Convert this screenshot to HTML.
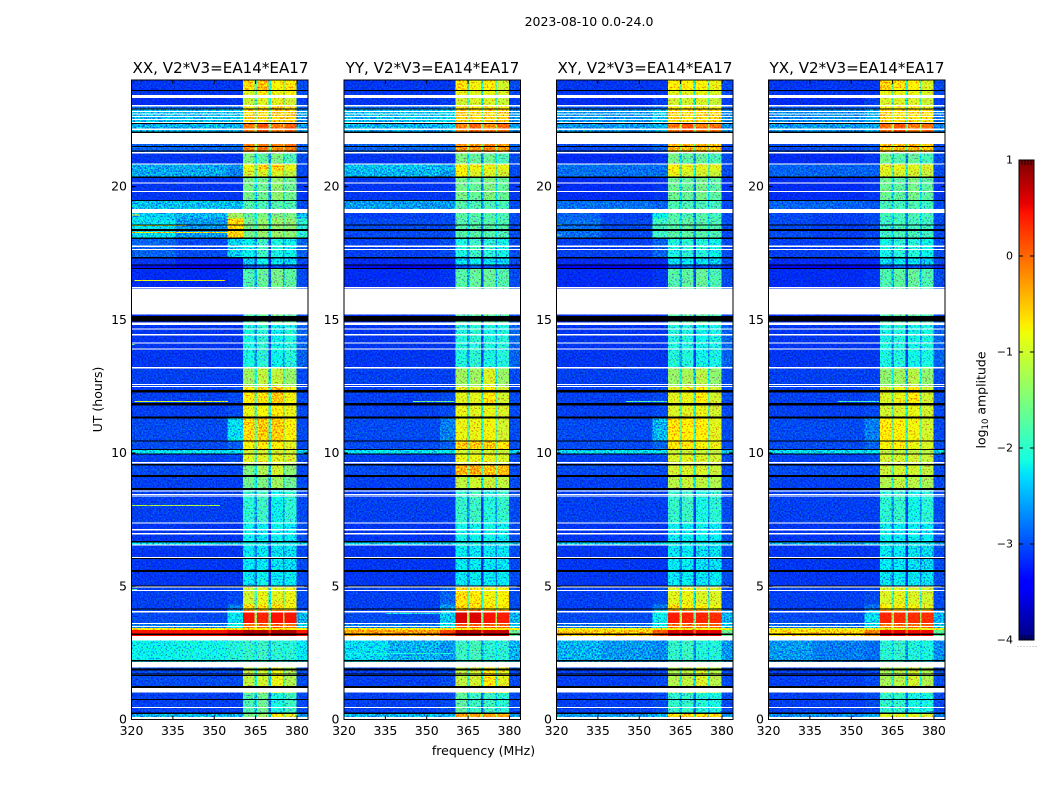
<!DOCTYPE html>
<html lang="en">
<head>
<meta charset="utf-8">
<title>2023-08-10 amplitude waterfall</title>
<style>
html,body{margin:0;padding:0;background:#fff;}
svg{display:block;}
text{font-family:"DejaVu Sans","Liberation Sans",sans-serif;fill:#000;}
</style>
</head>
<body>
<svg id="chart" xmlns="http://www.w3.org/2000/svg" width="1050" height="800" viewBox="0 0 1050 800">
  <defs>
    <filter id="speckle" x="0" y="0" width="1" height="1" color-interpolation-filters="sRGB">
      <feComponentTransfer in="SourceGraphic" result="s">
        <feFuncG type="table" tableValues="0 0.28 0.66 1"/>
      </feComponentTransfer>
      <feTurbulence type="fractalNoise" baseFrequency="0.62" numOctaves="1" seed="7" result="n"/>
      <feColorMatrix in="n" type="matrix" values="0 0 0 0 0.385  2.4 0 0 0 -0.7  0 1.2 0 0 -0.2  0 0 0 0 1" result="c"/>
      <feComposite in="s" in2="c" operator="arithmetic" k1="1.3" k2="0.5" k3="0" k4="0"/>
    </filter>
  </defs>
  <text x="589" y="26" font-size="12.5" text-anchor="middle">2023-08-10 0.0-24.0</text>
  <g id="panels"></g>
  <text x="220.5" y="73" font-size="15.1" text-anchor="middle">XX, V2*V3=EA14*EA17</text>
  <text x="432.5" y="73" font-size="15.1" text-anchor="middle">YY, V2*V3=EA14*EA17</text>
  <text x="645" y="73" font-size="15.1" text-anchor="middle">XY, V2*V3=EA14*EA17</text>
  <text x="857" y="73" font-size="15.1" text-anchor="middle">YX, V2*V3=EA14*EA17</text>
  <text x="483.5" y="755" font-size="12.5" text-anchor="middle">frequency (MHz)</text>
  <text x="102" y="399.5" font-size="12.5" text-anchor="middle" transform="rotate(-90 102 399.5)">UT (hours)</text>
  <g id="colorbar"></g>
  <text x="985.5" y="400" font-size="12.5" text-anchor="middle" transform="rotate(-90 985.5 400)">log<tspan font-size="8.5" dy="2.5">10</tspan><tspan dy="-2.5"> amplitude</tspan></text>
</svg>
<script>
// ---------- data ----------
const frequencyTicks = [320, 335, 350, 365, 380];
const hourTicks = [0, 5, 10, 15, 20];
const colorbarTicks = [1, 0, -1, -2, -3, -4];
// frequency edges (MHz): left, middle, shoulder, sub-band 1, notch, 2, notch, 3, notch, 4, right
const channelEdges = [320, 336, 354.8, 360.4, 364.6, 365.5, 369.7, 370.5, 374.9, 375.5, 379.8, 384];
// top of each time band (UT hours); each band runs down to the next entry
const bandTopHours = [24, 23.6, 23.33, 23, 22.91, 22.36, 21.6, 21.29, 20.87, 20.6, 20.35, 19.48, 19, 18.8, 18.06, 17.33, 17.08, 16.91, 14.9, 13.22, 12.51, 11.85, 11.36, 10.45, 10.14, 9.97, 9.56, 9.15, 8.67, 7.4, 6.67, 6.57, 5.6, 5, 4.32, 4.1, 3.63, 3.43, 3.35, 2.96, 1.96, 1, 0.26, 0.09];
// log10 amplitude per band: [left, middle, shoulder, sub1, sub2, sub3, sub4, right, notch]
const xxLevels = [
[-3.1,-3.1,-3.1,-.5,-.35,-.75,-.6,-3,-1.7],[-3.1,-3.1,-3.1,-.95,-.65,-.85,-.75,-3,-1.7],[-3.15,-3.15,-3.1,-1.05,-.9,-.9,-1,-3.05,-1.8],[-2.9,-2.9,-2.9,-.75,-.6,-.35,-.7,-2.9,-1.5],[-2.55,-2.55,-2.55,-.45,-.5,-.4,-.4,-2.7,-1.4],[-2.6,-2.6,-2.6,-.05,.1,-.05,.05,-2.7,-1.2],[-2.9,-2.9,-2.9,-.1,-.05,-.1,-.05,-2.9,-1.3],[-3.1,-3.1,-3.1,-1.5,-1.7,-1.5,-1.8,-3,-2.4],[-2.65,-2.65,-2.75,-.8,-.45,-.45,-.85,-3,-1.7],[-2.65,-2.65,-2.8,-1,-.95,-.95,-1.1,-3,-1.8],[-3.1,-3.1,-3.1,-1.55,-1.6,-1.4,-1.6,-3.1,-2.4],[-2.55,-2.55,-2.6,-1.75,-1.8,-1.75,-1.8,-3,-2.4],
[-2.5,-2.6,-1.3,-1.7,-1.5,-1.5,-1.5,-2.6,-2.2],[-2.4,-2.7,-.45,-1.55,-1.35,-1.35,-1.4,-2,-2],[-2.9,-3,-2.5,-2.2,-1.9,-2.1,-2.2,-2.9,-2.7],[-3.1,-3.2,-3.2,-2.5,-2.2,-2.4,-2.5,-3,-2.9],[-3.3,-3.4,-3.4,-3,-2.9,-3,-3,-3.2,-3.2],[-3.15,-3.15,-3.1,-1.8,-1.65,-1.55,-1.7,-3,-2.6],[-3.1,-3.1,-3.1,-2.1,-2,-2.2,-2.05,-2.9,-2.7],[-3.05,-3.05,-3.05,-1.3,-1.1,-1.1,-1.35,-3,-2.1],[-3.05,-3.05,-3,-.7,-.55,-.4,-.8,-3,-1.6],[-3.05,-3.05,-3,-.85,-.75,-.7,-.85,-3,-1.7],[-3,-3,-2.4,-.5,-.4,-.4,-.75,-3,-1.5],[-3,-3,-2.9,-.75,-.6,-.65,-.9,-3,-1.6],[-2.35,-2.35,-2.35,-1,-1,-1,-1,-2.5,-1.8],[-3.05,-3.05,-3,-.9,-.9,-.9,-.95,-3,-1.7],[-3,-3,-3,-1.5,-1.2,-1,-1.4,-3,-2.2],[-3.05,-3.05,-3.05,-1.6,-1.5,-1.3,-1.6,-3,-2.3],[-3.05,-3.05,-3.05,-2,-1.9,-2.2,-2,-3,-2.7],[-3.1,-3.1,-3.1,-2.2,-2.3,-2.2,-2.3,-3,-2.8],[-2.4,-2.4,-2.4,-2.2,-2.2,-2.2,-2.2,-2.5,-2.4],[-3.1,-3.1,-3.1,-2.3,-2.3,-2.4,-2.4,-3,-2.8],[-3.1,-3.1,-3.1,-2.3,-2.2,-2.3,-2.3,-3,-2.8],[-3.05,-3.05,-3,-1,-.85,-.9,-.85,-3,-1.9],[-3.05,-3.05,-2.8,-.5,-.6,-.5,-.8,-3,-1.6],[-3,-3,-2.4,.45,.35,.45,.45,-2.6,-1.3],[-2.8,-2.8,-2.2,0,0,.05,0,-2.5,-1],[-.7,-.7,-.7,-.7,-.7,-.7,-.7,-.7,-.7],[.45,.45,.6,.8,.8,.8,.8,.45,.7],[-2.2,-2.15,-2.05,-1.95,-1.9,-2,-2,-2.3,-2.2],[-3,-3,-3,-1.1,-1,-.85,-1.2,-3,-2.1],[-3.05,-3.05,-3.05,-1.8,-1.6,-2.1,-1.9,-3,-2.5],[-2.6,-2.6,-2.6,-1.5,-1.3,-.75,-.95,-2.7,-2]
];
const yyLevels = [
[-3.1,-3.1,-3.1,-.55,-.8,-.7,-1,-3,-1.7],[-3.1,-3.1,-3.1,-.85,-.9,-.85,-.95,-3,-1.8],[-3.1,-3.1,-3.05,-1,-.95,-.95,-1.05,-3.05,-1.9],[-2.9,-2.9,-2.8,-.6,-.6,-.55,-.7,-2.9,-1.5],[-2.55,-2.55,-2.4,-.4,-.5,-.45,-.4,-2.7,-1.4],[-2.6,-2.6,-2.5,-.1,.05,-.1,0,-2.7,-1.2],[-2.9,-2.9,-2.9,-.15,-.15,-.1,-.2,-2.9,-1.3],[-3.1,-3.1,-3.1,-1.5,-1.65,-1.6,-1.8,-3,-2.4],[-2.55,-2.55,-2.6,-.75,-.8,-.85,-.85,-3,-1.7],[-2.6,-2.6,-2.7,-.75,-.95,-.95,-1,-3,-1.8],[-3.1,-3.1,-3.1,-1.55,-1.65,-1.5,-1.65,-3.1,-2.4],[-2.7,-2.7,-2.7,-1.75,-1.8,-1.8,-1.85,-3,-2.4],
[-3.05,-3.05,-3,-1.7,-1.75,-1.75,-1.8,-3,-2.4],[-3,-3,-3,-1.75,-1.75,-1.75,-1.8,-3,-2.4],[-3.05,-3.05,-3,-2.1,-1.9,-2,-2.15,-3,-2.7],[-3.15,-3.15,-3.15,-2.4,-2.2,-2.4,-2.5,-3,-2.9],[-3.3,-3.4,-3.4,-3,-2.9,-3,-3,-3.2,-3.2],[-3.15,-3.15,-3.1,-1.75,-1.65,-1.65,-1.75,-3,-2.6],[-3.1,-3.1,-3.1,-2.05,-2,-2.1,-2.05,-2.9,-2.7],[-3.05,-3.05,-3.05,-1.3,-1.3,-.95,-1.35,-3,-2.2],[-3.05,-3.05,-3,-.9,-.9,-.6,-1,-3,-1.7],[-3.05,-3.05,-3,-.85,-.9,-.85,-.95,-3,-1.8],[-3,-3,-2.8,-.85,-.85,-.8,-1,-3,-1.7],[-3,-3,-2.9,-.45,-.4,-.4,-.6,-3,-1.5],[-2.35,-2.35,-2.35,-1,-1,-1,-1.05,-2.5,-1.8],[-3.05,-3.05,-3,-.85,-.85,-.85,-.95,-3,-1.7],[-3,-3,-3,-.3,-.25,-.35,-.35,-3,-1.5],[-3.05,-3.05,-3.05,-1.1,-1,-1.05,-1.1,-3,-2],[-3.05,-3.05,-3.05,-1.95,-1.9,-2.05,-1.95,-3,-2.7],[-3.1,-3.1,-3.1,-2.15,-2.2,-2.15,-2.25,-3,-2.8],[-2.4,-2.4,-2.4,-2.15,-2.2,-2.2,-2.2,-2.5,-2.4],[-3.1,-3.1,-3.1,-2.25,-2.3,-2.3,-2.35,-3,-2.8],[-3.1,-3.1,-3.1,-2.3,-2.25,-2.3,-2.3,-3,-2.8],[-3.05,-3.05,-2.9,-.55,-.6,-.8,-.75,-3,-1.7],[-3.05,-3.05,-2.7,-.4,-.45,-.65,-.75,-3,-1.6],[-3,-3,-2.5,.6,.6,.45,.4,-2.6,-1.2],[-2.8,-2.8,-2.2,.1,.1,.05,.05,-2.5,-1],[-.7,-.7,-.7,-.7,-.7,-.7,-.7,-.7,-.7],[-.2,-.2,.2,.75,.8,.7,.7,-1.6,.6],[-2.4,-2.6,-2.7,-1.9,-1.85,-2,-2,-2.6,-2.3],[-3.05,-3.05,-3,-1.1,-1,-.6,-.9,-3,-2],[-3.05,-3.05,-3,-1.7,-1.9,-1.9,-2,-3,-2.5],[-2.6,-2.6,-2.6,-.2,-.2,-.2,-.25,-2.7,-1.2]
];
const xyLevels = [
[-3.1,-3.1,-3.1,-.65,-.7,-.75,-.85,-3,-1.7],[-3.1,-3.1,-3.1,-.9,-.9,-.85,-.95,-3,-1.8],[-3.15,-3.15,-3.05,-1,-1,-.95,-1.05,-3.05,-1.9],[-2.95,-2.95,-2.9,-.7,-.7,-.6,-.8,-2.95,-1.5],[-2.7,-2.7,-2.5,-.45,-.55,-.5,-.5,-2.75,-1.4],[-2.7,-2.7,-2.6,-.05,.1,-.05,0,-2.75,-1.2],[-3,-3,-2.9,-.3,-.3,-.3,-.35,-3,-1.3],[-3.15,-3.15,-3.1,-1.55,-1.7,-1.65,-1.8,-3,-2.4],[-2.85,-2.85,-2.85,-.75,-.85,-.9,-.9,-3,-1.7],[-2.85,-2.85,-2.85,-.85,-1,-1,-1.05,-3,-1.8],[-3.15,-3.15,-3.1,-1.6,-1.65,-1.55,-1.7,-3.1,-2.4],[-2.85,-2.85,-2.9,-1.8,-1.8,-1.8,-1.85,-3,-2.4],
[-2.9,-3.05,-2.2,-1.75,-1.8,-1.75,-1.85,-3,-2.4],[-2.85,-3,-1.9,-1.75,-1.7,-1.75,-1.8,-3,-2.3],[-3.05,-3.05,-2.9,-2.1,-2,-2.05,-2.2,-3,-2.7],[-3.15,-3.15,-3.15,-2.4,-2.3,-2.4,-2.5,-3,-2.9],[-3.35,-3.4,-3.4,-3,-2.9,-3,-3,-3.2,-3.2],[-3.15,-3.15,-3.1,-1.75,-1.7,-1.65,-1.8,-3,-2.6],[-3.1,-3.1,-3.1,-2.05,-2.05,-2.15,-2.1,-2.9,-2.7],[-3.05,-3.05,-3.05,-1.35,-1.25,-1.15,-1.4,-3,-2.2],[-3.05,-3.05,-3,-.9,-.85,-.65,-1,-3,-1.7],[-3.05,-3.05,-3,-.95,-.9,-.85,-1,-3,-1.8],[-3,-3,-2.6,-.6,-.65,-.7,-.9,-3,-1.6],[-3,-3,-2.9,-.55,-.6,-.75,-.85,-3,-1.6],[-2.4,-2.4,-2.4,-1.05,-1.05,-1.05,-1.1,-2.5,-1.8],[-3.05,-3.05,-3,-.95,-.9,-.95,-1,-3,-1.7],[-3,-3,-3,-1,-.95,-.95,-1.05,-3,-1.9],[-3.05,-3.05,-3.05,-1.15,-1.05,-1.1,-1.2,-3,-2],[-3.05,-3.05,-3.05,-1.95,-1.9,-2.1,-2,-3,-2.7],[-3.1,-3.1,-3.1,-2.2,-2.25,-2.2,-2.3,-3,-2.8],[-2.5,-2.5,-2.5,-2.2,-2.2,-2.2,-2.25,-2.6,-2.4],[-3.1,-3.1,-3.1,-2.3,-2.3,-2.4,-2.4,-3,-2.8],[-3.1,-3.1,-3.1,-2.3,-2.25,-2.35,-2.3,-3,-2.8],[-3.05,-3.05,-3,-.9,-.85,-.95,-.95,-3,-1.9],[-3.05,-3.05,-2.8,-.5,-.65,-.7,-.85,-3,-1.7],[-3,-3,-2.2,.4,.35,.35,.3,-2.6,-1.3],[-2.85,-2.85,-2.3,0,0,0,.05,-2.5,-1.1],[-.8,-.8,-.8,-.8,-.8,-.8,-.8,-.8,-.8],[-.4,-.4,.1,.6,.6,.55,.55,-1.6,.4],[-2.6,-2.7,-2.75,-1.95,-1.9,-2.05,-2.05,-2.7,-2.4],[-3.05,-3.05,-3,-1.2,-1.1,-.95,-1.15,-3,-2.1],[-3.05,-3.05,-3,-1.95,-1.95,-2.05,-2.1,-3,-2.5],[-2.7,-2.7,-2.6,-.55,-.55,-.55,-.6,-2.75,-1.5]
];
const yxLevels = [
[-3.1,-3.1,-3.1,-.45,-.6,-.7,-.95,-3,-1.7],[-3.1,-3.1,-3.1,-.85,-.85,-.85,-.95,-3,-1.8],[-3.15,-3.15,-3.05,-.95,-.95,-.95,-1.05,-3.05,-1.9],[-2.95,-2.95,-2.9,-.75,-.7,-.6,-.85,-2.95,-1.5],[-2.75,-2.75,-2.6,-.45,-.55,-.5,-.55,-2.8,-1.4],[-2.7,-2.7,-2.65,0,.1,-.05,0,-2.75,-1.2],[-3,-3,-2.95,-.35,-.35,-.3,-.4,-3,-1.3],[-3.15,-3.15,-3.1,-1.55,-1.75,-1.65,-1.85,-3,-2.4],[-2.9,-2.9,-2.9,-.9,-.85,-.9,-.95,-3,-1.7],[-2.9,-2.9,-2.9,-.95,-1,-1,-1.1,-3,-1.8],[-3.15,-3.15,-3.1,-1.6,-1.7,-1.55,-1.7,-3.1,-2.4],[-2.9,-2.9,-2.95,-1.85,-1.85,-1.8,-1.9,-3,-2.4],
[-3,-3.05,-3,-1.85,-1.85,-1.8,-1.85,-3,-2.4],[-3,-3.05,-3,-1.9,-1.85,-1.85,-1.9,-3,-2.4],[-3.05,-3.05,-3,-2.15,-2,-2.05,-2.2,-3,-2.7],[-3.15,-3.15,-3.15,-2.4,-2.3,-2.4,-2.5,-3,-2.9],[-3.35,-3.4,-3.4,-3,-2.9,-3,-3,-3.2,-3.2],[-3.15,-3.15,-3.1,-1.8,-1.7,-1.65,-1.8,-3,-2.6],[-3.1,-3.1,-3.1,-2.1,-2.05,-2.15,-2.1,-2.9,-2.7],[-3.05,-3.05,-3.05,-1.4,-1.3,-1.15,-1.4,-3,-2.2],[-3.05,-3.05,-3,-.95,-.85,-.6,-1,-3,-1.7],[-3.05,-3.05,-3,-1,-.95,-.85,-1,-3,-1.8],[-3,-3,-2.8,-.7,-.75,-.8,-1,-3,-1.6],[-3,-3,-2.9,-.75,-.7,-.85,-.95,-3,-1.6],[-2.4,-2.4,-2.4,-1.1,-1.1,-1.1,-1.15,-2.5,-1.8],[-3.05,-3.05,-3,-1,-1,-1,-1.05,-3,-1.7],[-3,-3,-3,-1.05,-1,-1,-1.1,-3,-1.9],[-3.05,-3.05,-3.05,-1.2,-1.1,-1.15,-1.25,-3,-2],[-3.05,-3.05,-3.05,-2,-1.95,-2.15,-2,-3,-2.7],[-3.1,-3.1,-3.1,-2.2,-2.3,-2.25,-2.3,-3,-2.8],[-2.6,-2.6,-2.6,-2.25,-2.25,-2.25,-2.3,-2.7,-2.4],[-3.1,-3.1,-3.1,-2.3,-2.3,-2.4,-2.45,-3,-2.8],[-3.1,-3.1,-3.1,-2.35,-2.3,-2.35,-2.35,-3,-2.8],[-3.05,-3.05,-3,-.95,-.9,-.95,-1,-3,-1.9],[-3.05,-3.05,-2.85,-.6,-.75,-.8,-.9,-3,-1.7],[-3,-3,-2.4,.35,.3,.3,.3,-2.6,-1.3],[-2.85,-2.85,-2.4,-.05,0,0,.05,-2.5,-1.1],[-.85,-.85,-.85,-.85,-.85,-.85,-.85,-.85,-.85],[-.5,-.5,-.1,.55,.55,.5,.5,-1.7,.3],[-2.7,-2.8,-2.85,-2,-1.95,-2.05,-2.1,-2.75,-2.4],[-3.05,-3.05,-3,-1.25,-1.15,-1,-1.2,-3,-2.1],[-3.05,-3.05,-3,-1.95,-1.95,-2.1,-2.1,-3,-2.5],[-2.75,-2.75,-2.65,-.9,-.9,-.9,-.95,-2.8,-1.7]
];
// narrow features: [UT hour, start MHz, end MHz, log10 amplitude]
const xxStreaks = [[18.3,320,358,-.5],[18.55,320,340,-.9],[18.95,320,323,-.4],[16.5,321,354,-.8],[11.95,321,355,-1],[8.05,320,352,-1.2],[4.9,320,322,-1.8],[14.1,320,321,-1.6]];
const yyStreaks = [[11.95,345,360,-1.6],[4.0,335,360,-2.2],[2.5,320,360,-2.1]];
const xyStreaks = [[18.6,320,322,-1.6],[18.2,320,322,-1.7],[11.95,345,360,-1.8]];
const yxStreaks = [[18.4,320,321,-1.8],[11.95,345,360,-1.9],[17.3,320,321,-1.9]];
// flagged time ranges: [top hour, bottom hour]
const whiteGaps = [[23.43,23.33],[23.06,23],[22.83,22.8],[22.75,22.71],[22.65,22.61],[22.54,22.5],[22.43,22.39],[22.18,22.13],[22.02,21.6],[21.29,21.25],[20.87,20.83],[20.16,20.12],[19.83,19.79],[19.16,19],[17.78,17.74],[17.66,17.62],[16.24,16.2],[16.18,15.2],[14.9,14.81],[14.68,14.64],[14.46,14.42],[14.15,14.11],[13.93,13.89],[13.22,13.18],[12.59,12.55],[12.51,12.47],[9.67,9.6],[8.59,8.55],[8.47,8.43],[8.4,8.36],[7.4,7.36],[7.14,7.1],[6.99,6.95],[6.57,6.53],[6.09,6.05],[5,4.96],[4.86,4.82],[4.07,4.02],[3.63,3.59],[3.51,3.47],[3.14,2.96],[2.16,1.96],[1.19,1.01],[0.47,0.43],[0.09,0]];
const blackLines = [[23.62,23.58],[22.93,22.89],[22.38,22.34],[22.06,22.02],[21.53,21.49],[21.36,21.32],[20.37,20.33],[19.5,19.46],[18.58,18.54],[18.4,18.33],[18.08,18.04],[17.35,17.31],[17.08,17.04],[16.95,16.91],[15.15,14.93],[12.36,12.28],[11.87,11.79],[11.38,11.3],[10.47,10.43],[10.16,10.12],[9.99,9.95],[9.58,9.53],[9.17,9.1],[8.69,8.62],[6.69,6.65],[6.07,6.03],[5.62,5.54],[5.02,4.99],[4.16,4.12],[3.23,3.17],[2.23,2.18],[1.91,1.83],[1.73,1.7],[1.67,1.64],[1.25,1.19],[0.77,0.74],[0.26,0.2]];
const panelNames = ['xx', 'yy', 'xy', 'yx'];
const panelLevels = [xxLevels, yyLevels, xyLevels, yxLevels];
const panelStreaks = [xxStreaks, yyStreaks, xyStreaks, yxStreaks];

// ---------- scales ----------
const NS = 'http://www.w3.org/2000/svg';
const panelLeft = [131.5, 344, 556.5, 768.5];
const panelWidth = 176.5;
const panelTop = 80, panelBottom = 719.5;
const freqMin = 320, freqMax = 384, hourMax = 24;
function xScale(left, mhz) { return left + (mhz - freqMin) / (freqMax - freqMin) * panelWidth; }
function yScale(hour) { return panelBottom - hour / hourMax * (panelBottom - panelTop); }
const cbTop = 160, cbBottom = 640, cbLeft = 1019, cbRight = 1034, levelMin = -4, levelMax = 1;
function cbScale(level) { return cbBottom - (level - levelMin) / (levelMax - levelMin) * (cbBottom - cbTop); }
function lerp(v, pts) {
  if (v <= pts[0][0]) return pts[0][1];
  for (let i = 1; i < pts.length; i++) {
    if (v <= pts[i][0]) {
      const t = (v - pts[i-1][0]) / (pts[i][0] - pts[i-1][0]);
      return pts[i-1][1] + t * (pts[i][1] - pts[i-1][1]);
    }
  }
  return pts[pts.length-1][1];
}
const jetR = [[0,0],[.35,0],[.66,1],[.89,1],[1,.5]];
const jetG = [[0,0],[.125,0],[.375,1],[.64,1],[.91,0],[1,0]];
const jetB = [[0,.5],[.11,1],[.34,1],[.65,0],[1,0]];
function colorOf(level) {
  const v = Math.max(0, Math.min(1, (level - levelMin) / (levelMax - levelMin)));
  const c = [jetR, jetG, jetB].map(p => Math.round(lerp(v, p) * 255));
  return 'rgb(' + c.join(',') + ')';
}
function make(tag, attrs, parent) {
  const el = document.createElementNS(NS, tag);
  for (const k in attrs) el.setAttribute(k, attrs[k]);
  parent.appendChild(el);
  return el;
}
// map [L,M,E,s1,s2,s3,s4,R,notch] onto the eleven frequency channels
const channelOrder = [0, 1, 2, 3, 8, 4, 8, 5, 8, 6, 7];
const middleNotchChannel = 6, middleNotchDrop = 0.35;

// ---------- panels ----------
const panelsRoot = document.getElementById('panels');
panelNames.forEach(function (name, p) {
  const left = panelLeft[p];
  const right = left + panelWidth;
  const levels = panelLevels[p];
  const panel = make('g', {}, panelsRoot);
  
  

  const cells = make('g', { filter: 'url(#speckle)', 'shape-rendering': 'crispEdges' }, panel);
  
  
  levels.forEach(function (row, r) {
    const y0 = yScale(bandTopHours[r]);
    const y1 = yScale(bandTopHours[r + 1]);
    channelOrder.forEach(function (src, c) {
      const x0 = xScale(left, channelEdges[c]);
      const x1 = xScale(left, channelEdges[c + 1]);
      const level = c === middleNotchChannel ? row[src] - middleNotchDrop : row[src];
      const cell = make('rect', { x: x0, y: y0, width: x1 - x0, height: y1 - y0, fill: colorOf(level) }, cells);
      
      
    });
  });
  panelStreaks[p].forEach(function (s) {
    const streak = make('rect', { x: xScale(left, s[1]), y: yScale(s[0]), width: xScale(left, s[2]) - xScale(left, s[1]), height: 1, fill: colorOf(s[3]) }, cells);
    
    
  });
  const overlay = make('g', { 'shape-rendering': 'crispEdges' }, panel);
  
  
  whiteGaps.forEach(function (g) {
    const gap = make('rect', { x: left, y: yScale(g[0]), width: panelWidth, height: Math.max(1, yScale(g[1]) - yScale(g[0])), fill: '#fff' }, overlay);
    
    
  });
  blackLines.forEach(function (g) {
    const line = make('rect', { x: left, y: yScale(g[0]), width: panelWidth, height: Math.max(1, yScale(g[1]) - yScale(g[0])), fill: '#000' }, overlay);
    
    
  });

  const frame = make('rect', { x: left, y: panelTop, width: panelWidth, height: panelBottom - panelTop, fill: 'none', stroke: '#000', 'stroke-width': 1 }, panel);
  
  

  frequencyTicks.forEach(function (f) {
    const x = xScale(left, f);
    const d = 'M' + x + ' ' + panelBottom + 'v-4M' + x + ' ' + panelTop + 'v4';
    const tick = make('path', { d: d, stroke: '#000', 'stroke-width': 1, fill: 'none' }, panel);
    
    
    const label = make('text', { x: x, y: 735, 'font-size': 12.5, 'text-anchor': 'middle' }, panel);
    
    
    label.textContent = String(f);
  });
  hourTicks.forEach(function (h) {
    const y = yScale(h);
    const d = 'M' + left + ' ' + y + 'h4M' + right + ' ' + y + 'h-4';
    const tick = make('path', { d: d, stroke: '#000', 'stroke-width': 1, fill: 'none' }, panel);
    
    
    const label = make('text', { x: left - 4.5, y: y + 4, 'font-size': 12.5, 'text-anchor': 'end' }, panel);
    
    
    label.textContent = String(h);
  });
});

// ---------- colorbar ----------
const cb = document.getElementById('colorbar');
const cbSteps = 240;
for (let i = 0; i < cbSteps; i++) {
  const level = levelMin + (i + 0.5) / cbSteps * (levelMax - levelMin);
  const hi = levelMin + (i + 1) / cbSteps * (levelMax - levelMin);
  const lo = levelMin + i / cbSteps * (levelMax - levelMin);
  const swatch = make('rect', { x: cbLeft, y: cbScale(hi), width: cbRight - cbLeft, height: cbScale(lo) - cbScale(hi) + 0.5, fill: colorOf(level) }, cb);
  
  
}
const cbFrame = make('rect', { x: cbLeft, y: cbTop, width: cbRight - cbLeft, height: cbBottom - cbTop, fill: 'none', stroke: '#000', 'stroke-width': 1 }, cb);


colorbarTicks.forEach(function (t) {
  const y = cbScale(t);
  const tick = make('path', { d: 'M' + cbLeft + ' ' + y + 'h4M' + cbRight + ' ' + y + 'h-4', stroke: '#000', 'stroke-width': 1, fill: 'none' }, cb);
  
  
  const label = make('text', { x: 1013, y: y + 3.5, 'font-size': 11, 'text-anchor': 'end' }, cb);
  
  
  label.textContent = String(t).replace('-', '\u2212');
});
for (let i = 1; i <= 4; i++) {
  const x = cbLeft + 3 * i;
  const minor = make('path', { d: 'M' + x + ' ' + cbBottom + 'v-5M' + x + ' ' + cbTop + 'v5', stroke: '#000', 'stroke-width': 0.8, fill: 'none' }, cb);
  
  
}
for (let i = 0; i < 7; i++) {
  const dot = make('rect', { x: 1017.5 + 3 * i, y: 646, width: 1, height: 1, fill: '#aaa' }, cb);
  
  
}
</script>
</body>
</html>
